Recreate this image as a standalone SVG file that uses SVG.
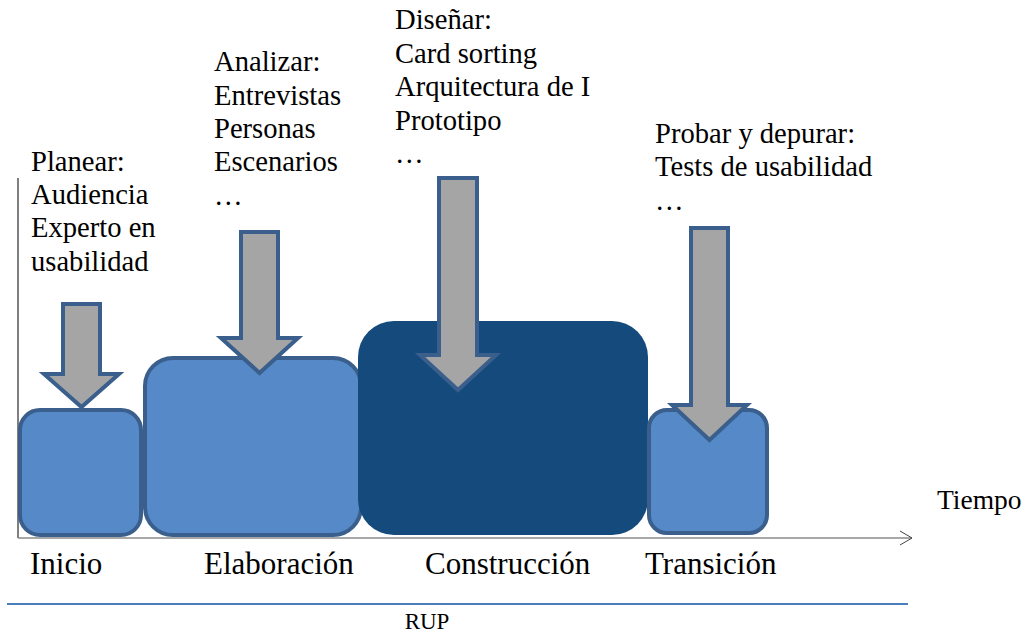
<svg xmlns="http://www.w3.org/2000/svg" width="1026" height="632" viewBox="0 0 1026 632">
<style>
text{font-family:"Liberation Serif","Times New Roman",serif;fill:#000}
.t{font-size:28.6px}
.lbl{font-size:31px}
.box{fill:#5589c8;stroke:#3a5f8c;stroke-width:4}
.dark{fill:#144a7c}
.arr{fill:#a5a5a5;stroke:#3a5f8c;stroke-width:4;stroke-linejoin:miter}
</style>
<defs>
<marker id="chev" markerWidth="14" markerHeight="16" refX="13" refY="8" orient="auto" markerUnits="userSpaceOnUse">
<path d="M1,1 L13,8 L1,15" fill="none" stroke="#444" stroke-width="1"/>
</marker>
</defs>
<rect width="1026" height="632" fill="#fff"/>
<g id="connectors">
<line x1="18" y1="178" x2="18" y2="538" stroke="#000" stroke-width="1"/>
<line x1="18" y1="538" x2="912" y2="538" stroke="#8a8a8a" stroke-width="1.5" marker-end="url(#chev)"/>
</g>
<g id="inicio">
<rect class="box" x="20" y="410" width="121" height="125" rx="20"/>
<text class="lbl" x="30" y="574">Inicio</text>
</g>
<g id="elaboracion">
<rect class="box" x="145" y="358" width="216" height="177" rx="28"/>
<text class="lbl" x="204" y="574">Elaboración</text>
</g>
<g id="construccion">
<rect class="dark" x="358" y="321" width="290" height="214" rx="36"/>
<text class="lbl" x="425" y="574">Construcción</text>
</g>
<g id="transicion">
<rect class="box" x="649" y="410" width="118" height="123" rx="18"/>
<text class="lbl" x="645" y="574">Transición</text>
</g>
<g id="arrow-planear">
<path class="arr" d="M63,304 H100 V374 H119 L81.5,407 L44,374 H63 Z"/>
<text class="t"><tspan x="31" y="171">Planear:</tspan><tspan x="31" y="204">Audiencia</tspan><tspan x="31" y="237">Experto en</tspan><tspan x="31" y="271">usabilidad</tspan></text>
</g>
<g id="arrow-analizar">
<path class="arr" d="M241,232 H278 V338 H298 L259.5,373 L221,338 H241 Z"/>
<text class="t"><tspan x="214" y="71">Analizar:</tspan><tspan x="214" y="105">Entrevistas</tspan><tspan x="214" y="138">Personas</tspan><tspan x="214" y="171">Escenarios</tspan><tspan x="214" y="205">…</tspan></text>
</g>
<g id="arrow-disenar">
<path class="arr" stroke="#31598a" d="M439,178 H477 V355 H496 L458,390 L420,355 H439 Z"/>
<text class="t"><tspan x="395" y="29">Diseñar:</tspan><tspan x="395" y="63">Card sorting</tspan><tspan x="395" y="96">Arquitectura de I</tspan><tspan x="395" y="130">Prototipo</tspan><tspan x="395" y="163">…</tspan></text>
</g>
<g id="arrow-probar">
<path class="arr" d="M691,228 H728 V405 H747 L709.5,440 L672,405 H691 Z"/>
<text class="t"><tspan x="655" y="143">Probar y depurar:</tspan><tspan x="655" y="176">Tests de usabilidad</tspan><tspan x="655" y="210">…</tspan></text>
</g>
<g id="tiempo">
<text x="937" y="509" style="font-size:27.5px">Tiempo</text>
</g>
<g id="rup">
<line x1="7" y1="604" x2="908" y2="604" stroke="#4a7ebb" stroke-width="2"/>
<text x="427" y="629" text-anchor="middle" style="font-size:23px">RUP</text>
</g>
</svg>
